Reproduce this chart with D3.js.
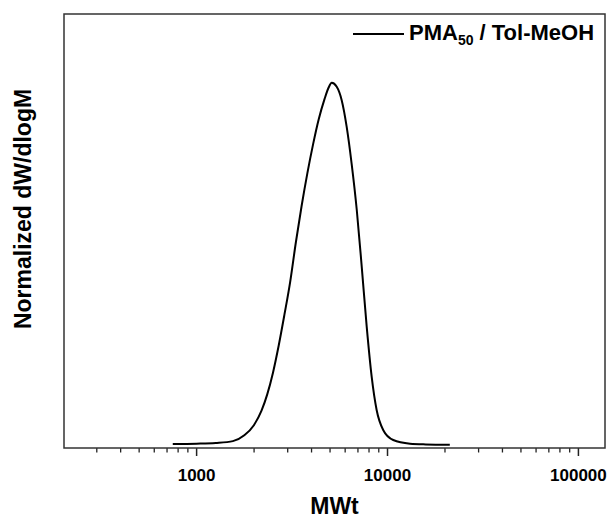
<!DOCTYPE html>
<html lang="en">
<head>
    <meta charset="UTF-8">
    <title>PMA50 / Tol-MeOH GPC</title>
    <script src="https://d3js.org/d3.v7.min.js"></script>
    <style>
        body { margin: 0; background: #fff; }
        svg text { font-family: "Liberation Sans", Arial, sans-serif; font-weight: bold; fill: #000; }
    </style>
</head>
<body>
    <svg width="614" height="518"></svg>

    <script type="text/javascript">
        // GPC trace
        const mw = [750, 1000, 1259, 1549, 1778, 1995, 2188, 2344, 2512, 2692, 2884, 3090, 3311, 3548, 3802, 4074,
                    4365, 4677, 4898, 5105, 5420, 5754, 6109, 6486, 6902, 7328, 7780, 8260, 8770, 9506,
                    10715, 13122, 15850, 21200];
        const dw = [0.003, 0.004, 0.006, 0.011, 0.027, 0.055, 0.095, 0.14, 0.2, 0.275, 0.36, 0.45, 0.56, 0.66, 0.75, 0.83,
                    0.9, 0.955, 0.985, 1.0, 0.989, 0.952, 0.879, 0.777, 0.649, 0.492, 0.327, 0.189, 0.097, 0.041,
                    0.014, 0.004, 0.002, 0.001];

        const xTicks = [1000, 10000, 100000];
        const seriesName = 'PMA';
        const seriesSub = '50';
        const seriesRest = ' / Tol-MeOH';

        const width = 614;
        const height = 518;
        const margin = { top: 14, right: 9, bottom: 70, left: 64 };

        const svg = d3.select('svg');

        const x = d3.scaleLog()
            .domain([202, 137800])
            .range([margin.left, width - margin.right]);

        const y = d3.scaleLinear()
            .domain([-0.008, 1.19])
            .range([height - margin.bottom, margin.top]);

        // minor ticks 300..90000
        const minor = [];
        for (let p = 100; p <= 10000; p *= 10) {
            for (let k = 2; k <= 9; k++) {
                const v = k * p;
                if (v >= 300 && v <= 90000) minor.push(v);
            }
        }

        const axisG = svg.append('g')
            .attr('transform', `translate(0,${height - margin.bottom})`);

        axisG.selectAll('.minor')
            .data(minor)
            .join('line')
            .attr('x1', d => x(d)).attr('x2', d => x(d))
            .attr('y1', 0).attr('y2', 4.5)
            .attr('stroke', '#222').attr('stroke-width', 1.3);

        axisG.selectAll('.major')
            .data(xTicks)
            .join('line')
            .attr('x1', d => x(d)).attr('x2', d => x(d))
            .attr('y1', 0).attr('y2', 8)
            .attr('stroke', '#222').attr('stroke-width', 1.5);

        axisG.selectAll('.lbl')
            .data(xTicks)
            .join('text')
            .attr('x', d => x(d))
            .attr('y', 33)
            .attr('text-anchor', 'middle')
            .style('font-size', '17px')
            .text(d => d);

        // frame
        svg.append('rect')
            .attr('x', margin.left)
            .attr('y', margin.top)
            .attr('width', width - margin.left - margin.right)
            .attr('height', height - margin.top - margin.bottom)
            .attr('fill', 'none')
            .attr('stroke', '#333')
            .attr('stroke-width', 1.5);

        // curve
        const line = d3.line()
            .x((d, i) => x(mw[i]))
            .y(d => y(d))
            .curve(d3.curveMonotoneX);

        svg.append('path')
            .datum(dw)
            .attr('d', line)
            .attr('fill', 'none')
            .attr('stroke', '#000')
            .attr('stroke-width', 2);

        // axis titles
        svg.append('text')
            .attr('x', (margin.left + width - margin.right) / 2)
            .attr('y', 514)
            .attr('text-anchor', 'middle')
            .style('font-size', '23px')
            .text('MWt');

        svg.append('text')
            .attr('transform', 'translate(31,209) rotate(-90)')
            .attr('text-anchor', 'middle')
            .style('font-size', '23px')
            .text('Normalized dW/dlogM');

        // legend
        const legend = svg.append('g');
        legend.append('line')
            .attr('x1', 353).attr('x2', 404)
            .attr('y1', 34).attr('y2', 34)
            .attr('stroke', '#000').attr('stroke-width', 2);
        const lt = legend.append('text')
            .attr('x', 409)
            .attr('y', 40)
            .style('font-size', '22px');
        lt.append('tspan').text(seriesName);
        lt.append('tspan').attr('dy', 5).style('font-size', '14px').text(seriesSub);
        lt.append('tspan').attr('dy', -5).text(seriesRest);
    </script>
</body>
</html>
